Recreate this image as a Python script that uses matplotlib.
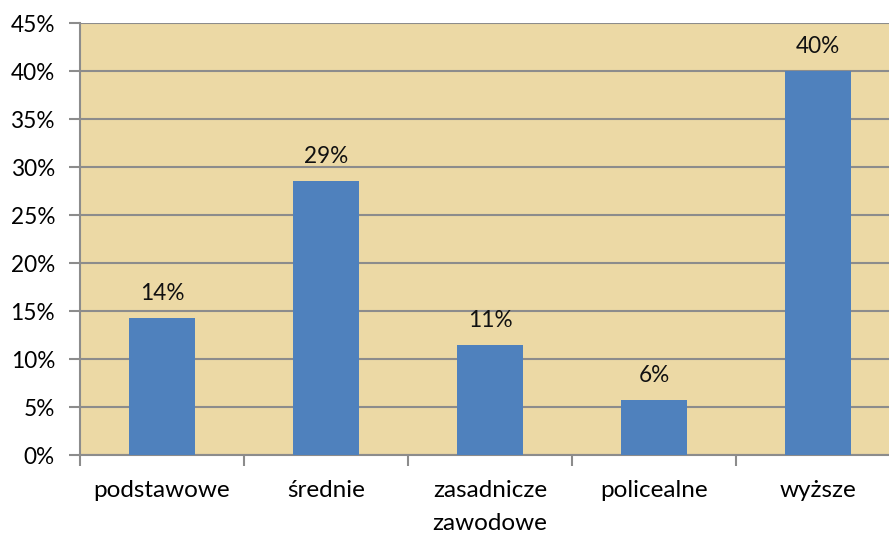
import numpy as np
import matplotlib.pyplot as plt
from matplotlib.ticker import FixedLocator

plt.rcParams['font.family'] = ['Lato', 'DejaVu Sans']

# data
categories = ['podstawowe', 'średnie', 'zasadnicze\nzawodowe', 'policealne', 'wyższe']
shares = [14.29, 28.57, 11.43, 5.71, 40.0]
value_labels = ['14%', '29%', '11%', '6%', '40%']
y_ticks = [0, 5, 10, 15, 20, 25, 30, 35, 40, 45]

W, H = 889, 534
fig = plt.figure(figsize=(W / 100, H / 100), dpi=100)
# plot area runs past the right edge like the original
ax = fig.add_axes([80 / W, 1 - 455 / H, 820 / W, 432 / H])
ax.set_facecolor('#ecd9a5')

x = np.arange(len(categories))
ax.bar(x, shares, width=0.4, color='#4f81bd', zorder=3)

for xi, v, lab in zip(x, shares, value_labels):
    ax.annotate(lab, (xi, v), xytext=(0, 10), textcoords='offset points',
                ha='center', va='bottom', fontsize=16.3, color='#111111', zorder=4)

ax.set_xlim(-0.5, len(categories) - 0.5)
ax.set_ylim(0, 45)
ax.set_yticks(y_ticks)
ax.set_yticklabels([f'{t}%' for t in y_ticks], fontsize=16.3)
ax.yaxis.grid(True, color='#8c8c8c', linewidth=1.5, zorder=1)

ax.set_xticks(x)
ax.set_xticklabels(categories, fontsize=17.5, linespacing=1.7)
ax.xaxis.set_minor_locator(FixedLocator(np.arange(-0.5, len(categories), 1.0)))
ax.tick_params(axis='x', which='major', length=0, pad=18)
ax.tick_params(axis='x', which='minor', length=8, width=1.5, color='#8c8c8c')
ax.tick_params(axis='y', length=8, width=1.5, color='#8c8c8c', pad=10)

for side in ['top', 'right']:
    ax.spines[side].set_visible(False)
for side in ['left', 'bottom']:
    ax.spines[side].set_color('#8c8c8c')
    ax.spines[side].set_linewidth(1.5)

fig.savefig('out.png', dpi=100)
